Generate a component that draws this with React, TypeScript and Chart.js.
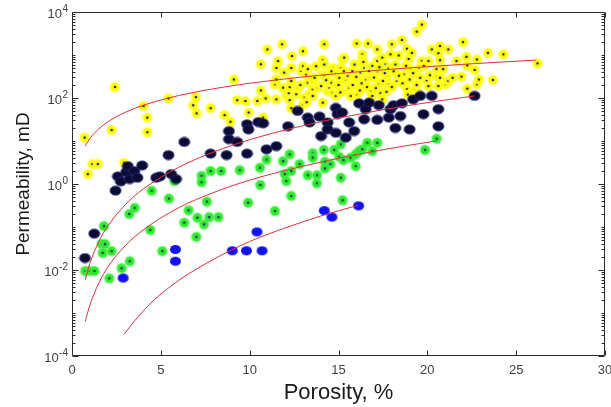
import React, { useEffect, useRef } from 'react';
import { Chart, registerables } from 'chart.js';

Chart.register(...registerables);

// ---------------- data ----------------
const yellowPorosity = [
  0.71, 0.89, 1.15, 1.45, 2.23, 2.42, 2.94, 4.03, 4.24, 4.24, 5.43, 6.82, 6.97, 7.01, 7.8, 8.59, 8.92, 9.11, 9.3, 9.76,
  9.94, 10.43, 10.63, 10.63, 10.76, 10.9, 11.0, 11.42, 11.5, 11.5, 11.5, 11.6, 11.82, 11.88, 11.94, 12.06, 12.2, 12.25, 12.25, 12.34,
  12.34, 12.34, 12.38, 12.62, 12.72, 12.85, 12.9, 13.0, 13.0, 13.0, 13.09, 13.2, 13.18, 13.27, 13.27, 13.37, 13.55, 13.55, 13.55, 13.65,
  13.74, 13.83, 14.02, 14.11, 14.11, 14.11, 14.2, 14.2, 14.2, 14.39, 14.48, 14.57, 14.67, 14.67, 14.85, 15.04, 15.13, 15.23, 15.23, 15.32,
  15.41, 15.6, 15.69, 15.78, 15.97, 16.02, 16.06, 16.2, 16.34, 16.34, 16.44, 16.66, 16.72, 16.72, 16.8, 16.9, 17.18, 17.18, 17.27, 17.36,
  17.46, 17.46, 17.55, 17.7, 17.64, 17.73, 17.83, 17.92, 18.0, 18.29, 18.39, 18.57, 18.67, 18.85, 18.85, 18.95, 19.04, 19.13, 19.4, 19.32,
  19.56, 19.6, 19.69, 19.69, 19.97, 20.06, 20.06, 20.15, 20.25, 20.52, 20.52, 20.62, 20.62, 20.71, 20.71, 20.71, 20.89, 21.04, 21.18, 21.18,
  21.42, 21.64, 21.92, 22.01, 22.2, 22.25, 22.25, 22.66, 22.79, 22.79, 22.9, 23.41, 23.69, 24.28, 26.2,
  14.3, 14.8, 15.0, 15.5, 15.9, 16.2, 16.5, 16.6, 16.9, 17.0, 17.2, 17.5, 17.8, 18.0, 18.2, 18.4, 18.6, 18.8, 19.0, 19.2,
  19.4, 19.8, 18.1, 17.1, 16.3, 15.3, 15.8, 16.0, 17.6, 18.9, 19.5, 15.1, 16.4, 17.3, 14.6,
];
const yellowPermeability = [
  12, 1.7, 2.9, 2.9, 18, 180, 3.1, 65, 35, 16, 98, 68, 105, 44, 58, 40, 28, 270, 89, 85,
  46, 85, 610, 150, 35, 98, 1350, 209, 93, 500, 270, 725, 1780, 174, 390, 112, 130, 180, 89, 58,
  500, 250, 950, 123, 174, 200, 425, 1230, 550, 71, 102, 80, 355, 229, 470, 123, 250, 158, 112, 295,
  550, 174, 190, 78, 760, 355, 1780, 600, 325, 145, 174, 229, 500, 132, 112, 295, 500, 790, 145, 870,
  270, 174, 112, 425, 250, 1850, 123, 150, 1040, 790, 500, 1850, 295, 425, 145, 112, 1350, 725, 209, 132,
  870, 93, 425, 140, 600, 325, 209, 1040, 1780, 250, 980, 2240, 355, 160, 1400, 815, 465, 1120, 3500, 160,
  500, 295, 5100, 725, 250, 725, 190, 340, 1350, 470, 325, 1100, 190, 1620, 760, 295, 470, 209, 1350, 250,
  295, 725, 315, 2000, 910, 575, 165, 450, 790, 209, 270, 1120, 263, 1040, 640,
  260, 380, 200, 330, 600, 380, 260, 180, 560, 300, 420, 250, 480, 180, 600, 330, 220, 560, 270, 380,
  200, 560, 420, 170, 220, 420, 200, 310, 380, 120, 130, 135, 690, 520, 420,
];

const blackPorosity = [
  0.73, 1.25, 2.45, 2.58, 2.75, 3.05, 3.14, 3.25, 3.51, 3.68, 3.95, 4.74, 4.95, 5.43, 5.58, 5.86, 6.32, 7.8, 8.7, 8.83,
  8.83, 9.3, 9.85, 9.85, 9.93, 10.49, 10.76, 10.95, 11.5, 12.16, 12.7, 13.27, 13.37, 13.93, 14.02, 14.39, 14.39, 14.85, 14.85, 14.95,
  15.2, 15.41, 15.6, 15.88, 16.16, 16.44, 16.53, 16.72, 17.18, 17.27, 17.83, 17.92, 18.1, 18.2, 18.48, 18.57, 19.0, 19.2, 19.6, 19.78,
  20.25, 20.62, 20.62, 22.66,
];
const blackPermeability = [
  0.019, 0.07, 0.7, 1.5, 1.15, 1.9, 2.6, 1.3, 2.0, 1.4, 2.7, 1.4, 1.5, 4.7, 1.7, 1.3, 9.5, 5.1, 4.7, 17,
  11, 9.5, 24.5, 5.1, 18.6, 27.5, 25.7, 6.4, 7.6, 22, 50, 35, 27, 37, 13, 27, 18.6, 15.5, 59, 42,
  46, 12, 27, 17, 75, 32, 55, 78, 31, 68, 35, 55, 68, 20, 38, 75, 18.6, 93, 112, 42,
  112, 55, 22, 112,
];

const greenPorosity = [
  0.74, 1.0, 1.26, 2.1, 1.8, 1.67, 1.86, 1.73, 2.23, 2.79, 3.25, 3.22, 3.53, 4.41, 4.48, 5.45, 5.08, 5.76, 6.32, 6.56,
  7.06, 7.43, 7.0, 7.59, 7.72, 8.24, 7.29, 7.29, 7.8, 8.4, 9.44, 9.91, 10.6, 10.58, 10.95, 11.42, 11.88, 12.25, 12.34, 11.97,
  12.06, 12.34, 12.81, 13.27, 13.79, 13.78, 13.55, 13.55, 14.17, 14.24, 14.54, 14.24, 14.76, 15.13, 15.04, 15.28, 15.13, 15.23, 15.69, 15.97,
  15.97, 16.16, 16.34, 16.62, 16.9, 17.18, 19.87, 20.52,
];
const greenPermeability = [
  0.0095, 0.0095, 0.0095, 0.0064, 0.105, 0.04, 0.04, 0.025, 0.0275, 0.011, 0.016, 0.2, 0.28, 0.085, 0.7, 0.46, 0.0275, 1.17, 0.126, 0.245,
  0.165, 0.115, 0.059, 0.39, 0.17, 0.17, 1.55, 1.1, 2.0, 2.0, 2.1, 0.37, 0.95, 2.4, 3.7, 0.235, 3.4, 4.9, 2.0, 1.7,
  1.17, 0.53, 2.9, 1.6, 1.6, 1.04, 5.2, 4.1, 6.2, 3.3, 2.9, 2.3, 6.2, 8.4, 4.3, 3.6, 1.4, 0.42, 4.1, 2.6,
  4.9, 5.8, 6.4, 9.1, 5.8, 9.1, 6.2, 11.3,
];

const bluePorosity = [2.88, 5.82, 5.82, 9.02, 9.82, 10.7, 10.41, 14.2, 14.63, 16.13];
const bluePermeability = [0.0065, 0.03, 0.016, 0.028, 0.028, 0.028, 0.077, 0.24, 0.17, 0.31];

// fitted trend curves
const curve1Porosity = [0.74, 1, 1.5, 2, 3, 4, 6, 8, 10, 13, 16, 19, 22.66, 26.1];
const curve1Permeability = [7.6, 11.3, 19, 27.6, 46.6, 67.5, 114, 165, 220, 309, 403, 502, 631, 760];
const curve2Porosity = [0.74, 1, 1.5, 2, 3, 4, 6, 8, 10, 13, 16, 19, 22.66];
const curve2Permeability = [0.0059, 0.014, 0.045, 0.103, 0.33, 0.76, 2.44, 5.6, 10.7, 22.7, 41, 67.6, 112];
const curve3Porosity = [0.74, 1, 1.5, 2, 3, 4, 6, 8, 10, 13, 16, 18.5, 20.5];
const curve3Permeability = [0.00063, 0.0015, 0.0049, 0.0114, 0.037, 0.085, 0.28, 0.64, 1.23, 2.6, 4.8, 7.4, 10];
const curve4Porosity = [2.94, 3.5, 4.5, 6, 8, 10, 12, 14, 16.1];
const curve4Permeability = [0.00032, 0.00064, 0.0018, 0.0057, 0.018, 0.046, 0.095, 0.18, 0.32];

// axes
const xTickValues = [0, 5, 10, 15, 20, 25, 30];
const yTickValues = [1e-4, 1e-2, 1, 1e2, 1e4];
const yTickBase = '10';
const yTickExponents = ['-4', '-2', '0', '2', '4'];
const yDecadeExponents = [-4, -3, -2, -1, 0, 1, 2, 3];
const yMinorMultipliers = [2, 3, 4, 5, 6, 7, 8, 9];

const FONT = '"Liberation Sans", Arial, Helvetica, sans-serif';

const toPoints = (xs: number[], ys: number[]) => xs.map((x, i) => ({ x, y: ys[i] }));

function makeMarker(w: number, h: number, draw: (ctx: CanvasRenderingContext2D) => void) {
  const c = document.createElement('canvas');
  c.width = w;
  c.height = h;
  const ctx = c.getContext('2d')!;
  draw(ctx);
  return c;
}

function dotMarker(fill: string, halo: string, dot: string) {
  return makeMarker(12, 12, (ctx) => {
    ctx.fillStyle = halo;
    ctx.beginPath();
    ctx.arc(6, 6, 5.6, 0, Math.PI * 2);
    ctx.fill();
    ctx.fillStyle = fill;
    ctx.beginPath();
    ctx.arc(6, 6, 4.5, 0, Math.PI * 2);
    ctx.fill();
    ctx.fillStyle = dot;
    ctx.beginPath();
    ctx.arc(6, 6, 1.3, 0, Math.PI * 2);
    ctx.fill();
  });
}

function ellipseMarker(fill: string, stroke: string | null) {
  return makeMarker(13, 11, (ctx) => {
    ctx.fillStyle = fill;
    ctx.beginPath();
    ctx.ellipse(6.5, 5.5, 5.5, 4.6, 0, 0, Math.PI * 2);
    ctx.fill();
    if (stroke) {
      ctx.strokeStyle = stroke;
      ctx.lineWidth = 1;
      ctx.stroke();
    }
  });
}

const axesPlugin = {
  id: 'matlabAxes',
  afterDraw(chart: any) {
    const { ctx, chartArea, scales } = chart;
    const L = Math.round(chartArea.left) + 0.5;
    const R = Math.round(chartArea.right) - 0.5;
    const T = Math.round(chartArea.top) + 0.5;
    const B = Math.round(chartArea.bottom) - 0.5;
    ctx.save();
    ctx.strokeStyle = '#2a2a2a';
    ctx.lineWidth = 1;
    ctx.beginPath();
    ctx.rect(L, T, R - L, B - T);
    for (const v of xTickValues) {
      const px = Math.round(scales.x.getPixelForValue(v)) + 0.5;
      ctx.moveTo(px, B);
      ctx.lineTo(px, B - 5);
      ctx.moveTo(px, T);
      ctx.lineTo(px, T + 5);
    }
    const drawY = (v: number, len: number) => {
      const py = Math.round(scales.y.getPixelForValue(v)) + 0.5;
      ctx.moveTo(L, py);
      ctx.lineTo(L + len, py);
      ctx.moveTo(R, py);
      ctx.lineTo(R - len, py);
    };
    for (const v of yTickValues) drawY(v, 6);
    for (const e of yDecadeExponents) {
      const base = Math.pow(10, e);
      if (e % 2 !== 0) drawY(base, 3);
      for (const m of yMinorMultipliers) drawY(m * base, 3);
    }
    ctx.stroke();

    // y tick labels with real superscript exponents
    ctx.fillStyle = '#404040';
    ctx.textBaseline = 'middle';
    ctx.textAlign = 'right';
    const rightX = chartArea.left - 4;
    yTickValues.forEach((v, i) => {
      const py = scales.y.getPixelForValue(v);
      ctx.font = `10px ${FONT}`;
      const exp = yTickExponents[i];
      const ew = ctx.measureText(exp).width;
      ctx.fillText(exp, rightX, py - 2.5);
      ctx.font = `13px ${FONT}`;
      ctx.fillText(yTickBase, rightX - ew - 0.5, py + 2.5);
    });
    ctx.restore();
  },
};

export default function App() {
  const ref = useRef<HTMLCanvasElement>(null);

  useEffect(() => {
    document.body.style.margin = '0';
    const yellow = dotMarker('#ffff00', 'rgba(255,255,90,0.55)', '#1c1c6e');
    const green = dotMarker('#30ec30', 'rgba(90,240,90,0.5)', '#1d3a55');
    const black = ellipseMarker('#0b0b33', 'rgba(40,40,130,0.9)');
    const blue = ellipseMarker('#1212f0', null);

    const scatter = (label: string, xs: number[], ys: number[], style: HTMLCanvasElement, order: number) => ({
      type: 'scatter' as const,
      label,
      data: toPoints(xs, ys),
      pointStyle: style,
      pointRadius: 5,
      showLine: false,
      order,
    });
    const curve = (label: string, xs: number[], ys: number[]) => ({
      type: 'line' as const,
      label,
      data: toPoints(xs, ys),
      borderColor: '#e0303a',
      borderWidth: 1,
      pointRadius: 0,
      fill: false,
      cubicInterpolationMode: 'monotone' as const,
      order: 0,
    });

    const chart = new Chart(ref.current!, {
      type: 'scatter',
      data: {
        datasets: [
          curve('Trend 1', curve1Porosity, curve1Permeability),
          curve('Trend 2', curve2Porosity, curve2Permeability),
          curve('Trend 3', curve3Porosity, curve3Permeability),
          curve('Trend 4', curve4Porosity, curve4Permeability),
          scatter('Black', blackPorosity, blackPermeability, black, 1),
          scatter('Blue', bluePorosity, bluePermeability, blue, 2),
          scatter('Green', greenPorosity, greenPermeability, green, 3),
          scatter('Yellow', yellowPorosity, yellowPermeability, yellow, 4),
        ] as any,
      },
      options: {
        responsive: false,
        animation: false,
        devicePixelRatio: 1,
        events: [],
        layout: { padding: { top: 12, right: 3, left: 0, bottom: 0 } },
        plugins: { legend: { display: false }, tooltip: { enabled: false } },
        scales: {
          x: {
            type: 'linear',
            position: 'bottom',
            min: 0,
            max: 30,
            grid: { display: false, drawTicks: false },
            border: { display: false },
            afterBuildTicks: (s: any) => {
              s.ticks = xTickValues.map((v) => ({ value: v }));
            },
            ticks: {
              padding: 7,
              color: '#404040',
              font: { family: FONT, size: 13 },
              maxRotation: 0,
              autoSkip: false,
            },
            title: {
              display: true,
              text: 'Porosity, %',
              color: '#1a1a1a',
              font: { family: FONT, size: 22 },
              padding: { top: 0, bottom: 1 },
            },
            afterFit: (s: any) => {
              s.height = 51;
              s.paddingLeft = 0;
              s.paddingRight = 0;
            },
          },
          y: {
            type: 'logarithmic',
            position: 'left',
            min: 1e-4,
            max: 1e4,
            grid: { display: false, drawTicks: false },
            border: { display: false },
            afterBuildTicks: (s: any) => {
              s.ticks = yTickValues.map((v) => ({ value: v }));
            },
            ticks: {
              display: false,
              autoSkip: false,
            },
            title: {
              display: true,
              text: 'Permeability, mD',
              color: '#1a1a1a',
              font: { family: FONT, size: 19 },
              padding: { top: 12, bottom: 0 },
            },
            afterFit: (s: any) => {
              s.width = 72;
              s.paddingTop = 0;
              s.paddingBottom = 0;
            },
          },
        },
      } as any,
      plugins: [axesPlugin],
    });
    return () => chart.destroy();
  }, []);

  return (
    <div style={{ width: 611, height: 407, position: 'relative' }}>
      <canvas ref={ref} width={611} height={407} style={{ display: 'block' }} />
    </div>
  );
}
